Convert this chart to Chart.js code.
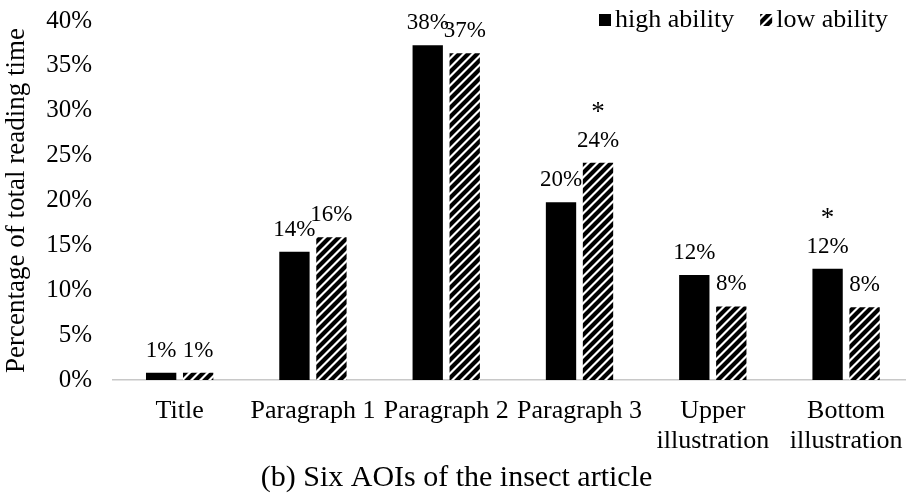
<!DOCTYPE html>
<html>
  <head>
    <meta charset="utf-8"/>
    <style type="text/css">
      body {
        margin: 0px;
        padding: 0px;
        background: #ffffff;
      }
      #wrap {
        width: 906px;
        height: 502px;
        overflow: hidden;
      }
    </style>
    <script src="https://cdn.jsdelivr.net/npm/chart.js@4/dist/chart.umd.min.js"></script>
  </head>
  <body>
    <div id="wrap"><canvas id="chart" width="920" height="502" style="width:920px;height:502px"></canvas></div>
  <script>
    // values (percent of total reading time)
    var categories = ['Title', 'Paragraph 1', 'Paragraph 2', 'Paragraph 3', ['Upper', 'illustration'], ['Bottom', 'illustration']];
    var highAbility = [0.8, 14.3, 37.3, 19.8, 11.7, 12.4];
    var lowAbility = [0.8, 15.9, 36.4, 24.2, 8.2, 8.1];
    var highLabels = ['1%', '14%', '38%', '20%', '12%', '12%'];
    var lowLabels = ['1%', '16%', '37%', '24%', '8%', '8%'];
    var highStars = [false, false, false, false, false, true];
    var lowStars = [false, false, false, true, false, false];
    var yTicks = [0, 5, 10, 15, 20, 25, 30, 35, 40];

    var SERIF = "'Liberation Serif', 'Times New Roman', serif";
    Chart.defaults.font.family = SERIF;
    Chart.defaults.color = '#000000';

    // black diagonal stripes for the low ability bars
    function makeHatch() {
      var s = 9;
      var c = document.createElement('canvas');
      c.width = s; c.height = s;
      var g = c.getContext('2d');
      g.fillStyle = '#ffffff';
      g.fillRect(0, 0, s, s);
      g.strokeStyle = '#000000';
      g.lineWidth = 4.2;
      g.beginPath();
      g.moveTo(-2, s + 2); g.lineTo(s + 2, -2);
      g.moveTo(-2, 2); g.lineTo(2, -2);
      g.moveTo(s - 2, s + 2); g.lineTo(s + 2, s - 2);
      g.stroke();
      return g.createPattern(c, 'repeat');
    }
    var hatch = makeHatch();

    var barLabels = {
      id: 'barLabels',
      afterDatasetsDraw: function(chart) {
        var ctx = chart.ctx;
        var texts = [highLabels, lowLabels];
        var stars = [highStars, lowStars];
        ctx.save();
        ctx.fillStyle = '#000000';
        ctx.textAlign = 'center';
        ctx.textBaseline = 'middle';
        chart.data.datasets.forEach(function(ds, i) {
          var meta = chart.getDatasetMeta(i);
          meta.data.forEach(function(bar, j) {
            ctx.font = '23px ' + SERIF;
            ctx.fillText(texts[i][j], bar.x, bar.y - 22);
            if (stars[i][j]) {
              ctx.font = '27px ' + SERIF;
              ctx.fillText('*', bar.x, bar.y - 50);
            }
          });
        });
        ctx.restore();
      }
    };

    var topLegend = {
      id: 'topLegend',
      afterDraw: function(chart) {
        var ctx = chart.ctx;
        var x = 599, y = 20;
        ctx.save();
        ctx.font = '26px ' + SERIF;
        ctx.textBaseline = 'middle';
        ctx.textAlign = 'left';
        chart.data.datasets.forEach(function(ds) {
          ctx.fillStyle = ds.backgroundColor;
          ctx.fillRect(x, y - 6, 12, 12);
          ctx.fillStyle = '#000000';
          ctx.fillText(ds.label, x + 16, y);
          x += 16 + ctx.measureText(ds.label).width + 26;
        });
        ctx.restore();
      }
    };

    var titleH = 30 * 1.2 + 6;

    new Chart(document.getElementById('chart'), {
      type: 'bar',
      data: {
        labels: categories,
        datasets: [{
          label: 'high ability',
          data: highAbility,
          backgroundColor: '#000000',
          categoryPercentage: 0.555,
          barPercentage: 0.82
        }, {
          label: 'low ability',
          data: lowAbility,
          backgroundColor: hatch,
          categoryPercentage: 0.555,
          barPercentage: 0.82
        }]
      },
      options: {
        responsive: false,
        animation: false,
        devicePixelRatio: 1,
        layout: {
          padding: { top: 21, right: 7, left: 0, bottom: 0 }
        },
        plugins: {
          legend: { display: false },
          tooltip: { enabled: false },
          title: {
            display: true,
            position: 'bottom',
            text: '(b) Six AOIs of the insect article',
            color: '#000000',
            font: { size: 30, weight: 'normal', family: SERIF },
            padding: { top: 0, bottom: 6 }
          }
        },
        scales: {
          x: {
            grid: { display: false, drawTicks: false },
            border: { display: true, color: '#c8c8c8', width: 1.5 },
            ticks: {
              color: '#000000',
              padding: 17,
              maxRotation: 0,
              autoSkip: false,
              font: { size: 26, lineHeight: 1.12 }
            },
            afterFit: function(scale) {
              scale.height = 502 - 380 - titleH;
            }
          },
          y: {
            min: 0,
            max: 40,
            grid: { display: false, drawTicks: false },
            border: { display: false },
            afterBuildTicks: function(scale) {
              scale.ticks = yTicks.map(function(v) { return { value: v }; });
            },
            ticks: {
              color: '#000000',
              padding: 21,
              font: { size: 25 },
              callback: function(v) { return v + '%'; }
            },
            title: {
              display: true,
              text: 'Percentage of total reading time',
              color: '#000000',
              font: { size: 27 },
              padding: { top: 1, bottom: 0 }
            },
            afterFit: function(scale) {
              scale.width = 113;
              scale.paddingTop = 0;
              scale.paddingBottom = 0;
            }
          }
        }
      },
      plugins: [barLabels, topLegend]
    });
  </script>
  </body>
</html>
